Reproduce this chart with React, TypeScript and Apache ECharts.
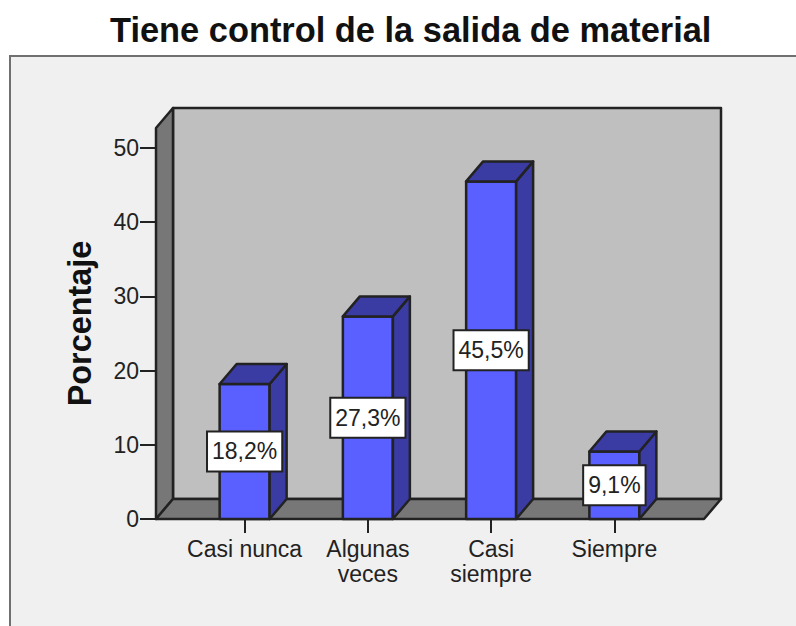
import React, { useEffect, useRef } from "react";
import * as echarts from "echarts";

const titleText = "Tiene control de la salida de material";
const axisName = "Porcentaje";
const categories = ["Casi nunca", "Algunas\nveces", "Casi\nsiempre", "Siempre"];
const values = [18.2, 27.3, 45.5, 9.1];
const labels = ["18,2%", "27,3%", "45,5%", "9,1%"];
const FONT = '"Liberation Sans", Arial, sans-serif';

const DX = 17, DY = -20, BAR_W = 50, PAD_L = 27, PAD_R = 28, LINE = "#222222";

export default function App() {
  const ref = useRef<HTMLDivElement>(null);
  useEffect(() => {
    const chart = echarts.init(ref.current!, null, { renderer: "svg" });
    const edge = { stroke: LINE, lineWidth: 2.5, lineJoin: "round" };
    chart.setOption({
      animation: false,
      backgroundColor: "#ffffff",
      title: {
        text: titleText,
        left: 105,
        top: 8,
        textStyle: { fontFamily: FONT, fontSize: 34.4, fontWeight: "bold", color: "#111111" },
      },
      graphic: [
        {
          type: "rect",
          z: -1,
          shape: { x: 10, y: 56, width: 800, height: 600 },
          style: { fill: "#f0f0f0", stroke: "#707070", lineWidth: 2 },
        },
      ],
      grid: { left: 183, top: 148, width: 493, height: 371 },
      xAxis: {
        type: "category",
        data: categories,
        axisLine: { show: false },
        axisTick: { show: true, alignWithLabel: true, length: 14, lineStyle: { color: LINE, width: 2 } },
        axisLabel: { fontFamily: FONT, fontSize: 23, color: "#222222", margin: 17, lineHeight: 25, interval: 0 },
      },
      yAxis: {
        type: "value",
        min: 0,
        max: 50,
        interval: 10,
        offset: 27,
        name: axisName,
        nameLocation: "middle",
        nameRotate: 90,
        nameGap: 60,
        nameTextStyle: { fontFamily: FONT, fontSize: 32.4, fontWeight: "bold", color: "#111111", padding: [0, 0, 0, 20] },
        splitLine: { show: false },
        axisLine: { show: false },
        axisTick: { show: true, length: 16, lineStyle: { color: LINE, width: 2 } },
        axisLabel: { fontFamily: FONT, fontSize: 23, color: "#222222", margin: 17 },
      },
      series: [
        {
          type: "custom",
          coordinateSystem: "cartesian2d",
          z: 1,
          silent: true,
          data: [[0, 0]],
          renderItem: (params: any, api: any) => {
            const cs = params.coordSys;
            const x0 = cs.x - PAD_L;
            const x1 = cs.x + cs.width + PAD_R;
            const bottom = cs.y + cs.height;
            const top = cs.y - 20;
            return {
              type: "group",
              children: [
                { type: "polygon", shape: { points: [[x0 + DX, top + DY], [x1 + DX, top + DY], [x1 + DX, bottom + DY], [x0 + DX, bottom + DY]] }, style: { fill: "#bfbfbf", ...edge } },
                { type: "polygon", shape: { points: [[x0, top], [x0 + DX, top + DY], [x0 + DX, bottom + DY], [x0, bottom]] }, style: { fill: "#777777", ...edge } },
                { type: "polygon", shape: { points: [[x0, bottom], [x0 + DX, bottom + DY], [x1 + DX, bottom + DY], [x1, bottom]] }, style: { fill: "#777777", ...edge } },
              ],
            };
          },
        },
        {
          type: "custom",
          coordinateSystem: "cartesian2d",
          z: 3,
          silent: true,
          data: values.map((v, i) => [i, v]),
          renderItem: (params: any, api: any) => {
            const top = api.coord([api.value(0), api.value(1)]);
            const base = api.coord([api.value(0), 0]);
            const mid = api.coord([api.value(0), api.value(1) / 2]);
            const l = top[0] - BAR_W / 2;
            const r = top[0] + BAR_W / 2;
            return {
              type: "group",
              children: [
                { type: "polygon", shape: { points: [[l, top[1]], [l, base[1]], [r, base[1]], [r, top[1]]] }, style: { fill: "#5a5fff", ...edge } },
                { type: "polygon", shape: { points: [[r, top[1]], [r, base[1]], [r + DX, base[1] + DY], [r + DX, top[1] + DY]] }, style: { fill: "#3a3ba3", ...edge } },
                { type: "polygon", shape: { points: [[l, top[1]], [r, top[1]], [r + DX, top[1] + DY], [l + DX, top[1] + DY]] }, style: { fill: "#3a3ba3", ...edge } },
                {
                  type: "text",
                  x: top[0],
                  y: mid[1],
                  style: {
                    text: labels[params.dataIndex],
                    fontFamily: FONT,
                    fontSize: 23,
                    fill: "#222222",
                    align: "center",
                    verticalAlign: "middle",
                    backgroundColor: "#ffffff",
                    borderColor: LINE,
                    borderWidth: 2,
                    padding: [8, 4, 7, 4],
                  },
                },
              ],
            };
          },
        },
      ],
    });
    return () => chart.dispose();
  }, []);
  return <div ref={ref} style={{ position: "absolute", left: 0, top: 0, width: 796, height: 626 }} />;
}
